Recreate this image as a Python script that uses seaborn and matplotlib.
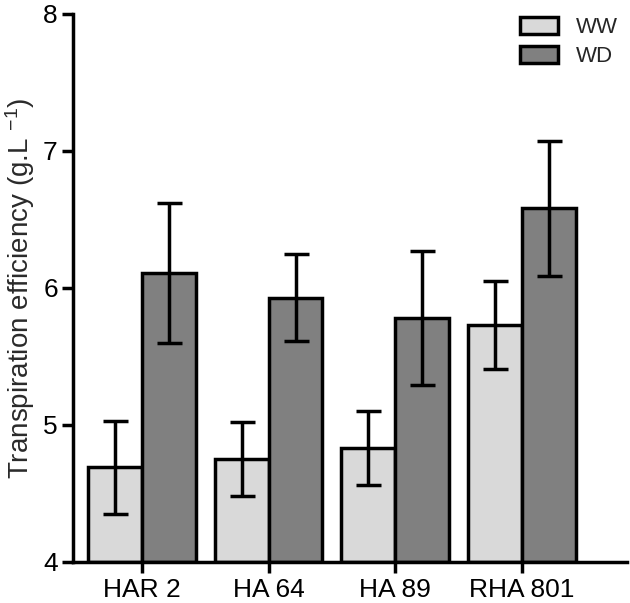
import matplotlib
matplotlib.use("Agg")
import matplotlib.pyplot as plt
import seaborn as sns
import pandas as pd
import numpy as np

# values
lines = ["HAR 2", "HA 64", "HA 89", "RHA 801"]
treatments = ["WW", "WD"]
ww_mean = [4.69, 4.75, 4.83, 5.73]
ww_err = [0.34, 0.27, 0.27, 0.32]
wd_mean = [6.11, 5.93, 5.78, 6.58]
wd_err = [0.51, 0.32, 0.49, 0.49]

df = pd.DataFrame({
    "line": lines * 2,
    "treat": ["WW"] * 4 + ["WD"] * 4,
    "te": ww_mean + wd_mean,
    "err": ww_err + wd_err,
})

sns.set_style("ticks")
plt.rcParams["font.family"] = ["Liberation Sans", "DejaVu Sans"]
plt.rcParams["mathtext.fontset"] = "custom"
plt.rcParams["mathtext.rm"] = "Liberation Sans"
plt.rcParams["mathtext.it"] = "Liberation Sans"

fig = plt.figure(figsize=(6.3, 6.03), dpi=100)
ax = fig.add_axes([0.116, 0.068, 0.879, 0.909])

sns.barplot(data=df, x="line", y="te", hue="treat", order=lines,
            hue_order=treatments, palette=["#d9d9d9", "#808080"],
            edgecolor="black", linewidth=2.5, width=0.85, errorbar=None,
            ax=ax)

# error bars on top of each bar
for cont, t in zip(ax.containers, treatments):
    sub = df[df["treat"] == t].set_index("line").loc[lines]
    xs = [p.get_x() + p.get_width() / 2 for p in cont.patches]
    ax.errorbar(xs, sub["te"], yerr=sub["err"], fmt="none", ecolor="black",
                elinewidth=2.5, capsize=9, capthick=2.5, zorder=5)

# bars rise from the bottom of the axis
for p in ax.patches:
    if p.get_height() > 0:
        p.set_y(4)
        p.set_height(p.get_height() - 4)

ax.set_ylim(4, 8)
ax.set_xlim(-0.545, 3.83)
ax.set_yticks([4, 5, 6, 7, 8])
ax.set_xlabel("")
ax.set_ylabel(r"Transpiration efficiency (g.L $^{\rm{-1}}$)", fontsize=20,
              color="#2a2a2a", labelpad=4)
ax.tick_params(axis="both", labelsize=19, width=2.5, length=8, colors="black")
ax.tick_params(axis="y", pad=3)
for s in ["left", "bottom"]:
    ax.spines[s].set_linewidth(2.5)
    ax.spines[s].set_color("black")
sns.despine(ax=ax)

leg = ax.legend(loc="upper right", frameon=False, fontsize=16,
                handlelength=1.7, handleheight=0.8, labelspacing=0.35,
                borderaxespad=0.0, bbox_to_anchor=(1.0, 1.01))
for h in leg.legend_handles:
    h.set_linewidth(2.5)

fig.savefig("out.png", dpi=100)
